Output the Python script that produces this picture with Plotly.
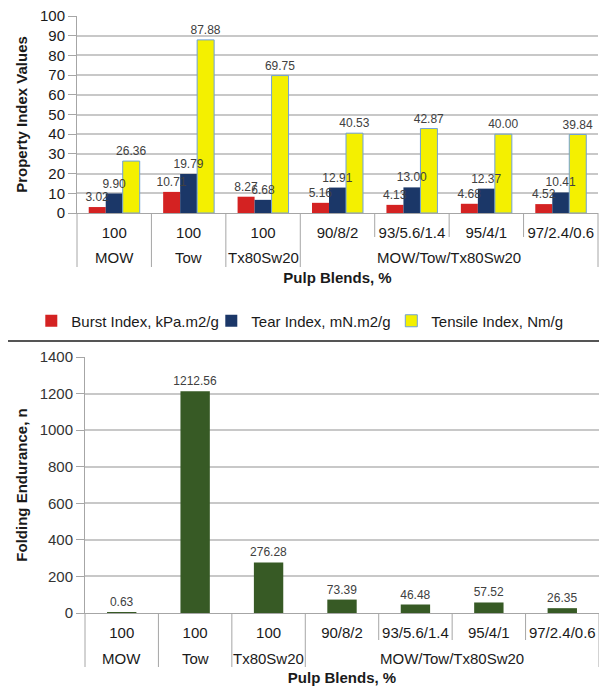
import plotly.graph_objects as go

# Pulp blend categories (outer group, inner composition)
groups = ["MOW", "Tow", "Tx80Sw20", "MOW/Tow/Tx80Sw20", "MOW/Tow/Tx80Sw20",
          "MOW/Tow/Tx80Sw20", "MOW/Tow/Tx80Sw20"]
blends = ["100", "100", "100", "90/8/2", "93/5.6/1.4", "95/4/1", "97/2.4/0.6"]

# Strength indices
burst_index = [3.02, 10.71, 8.27, 5.16, 4.13, 4.68, 4.52]
tear_index = [9.90, 19.79, 6.68, 12.91, 13.00, 12.37, 10.41]
tensile_index = [26.36, 87.88, 69.75, 40.53, 42.87, 40.00, 39.84]

# Folding endurance (number of double folds)
folding_endurance = [0.63, 1212.56, 276.28, 73.39, 46.48, 57.52, 26.35]

FONT = "Liberation Sans, Arial, sans-serif"
W, H = 599, 687


def py(px):
    """Convert a pixel row (from top) to paper y."""
    return 1 - px / H


def px_x(px):
    return px / W


# unique category keys; the tick text shows only the blend composition
keys = [f"{g} {b}" for g, b in zip(groups, blends)]
n_cat = len(keys)

# spans of consecutive identical outer groups: (label, first index, last index)
spans = []
for i, g in enumerate(groups):
    if spans and spans[-1][0] == g:
        spans[-1][2] = i
    else:
        spans.append([g, i, i])

fig = go.Figure()

bar_text = dict(family=FONT, size=12, color="#404040")

index_series = [
    ("Burst Index, kPa.m2/g", burst_index, "#d42222", dict(width=0)),
    ("Tear Index, mN.m2/g", tear_index, "#1b3768", dict(width=0)),
    ("Tensile Index, Nm/g", tensile_index, "#f4f000",
     dict(width=1, color="#6fa0d8")),
]

# bars first
for k, (name, vals, color, line) in enumerate(index_series):
    fig.add_trace(go.Bar(
        x=keys, y=vals, name=name, offsetgroup=str(k),
        marker=dict(color=color, line=line),
        xaxis="x", yaxis="y", hoverinfo="skip",
    ))
# value labels on top of every bar (drawn after all bars)
for k, (name, vals, color, line) in enumerate(index_series):
    fig.add_trace(go.Bar(
        x=keys, y=vals, name=name, offsetgroup=str(k), showlegend=False,
        marker=dict(color="rgba(0,0,0,0)", line=dict(width=0)),
        texttemplate="%{y:.2f}", textposition="outside", textfont=bar_text,
        constraintext="none", cliponaxis=False, xaxis="x", yaxis="y",
    ))

fig.add_trace(go.Bar(
    x=keys, y=folding_endurance, name="Folding Endurance",
    marker=dict(color="#375a25", line=dict(width=0)),
    width=0.4, showlegend=False,
    texttemplate="%{y:.2f}", textposition="outside", textfont=bar_text,
    constraintext="none", cliponaxis=False, xaxis="x2", yaxis="y2",
))

tick_font = dict(family=FONT, size=15, color="#1a1a1a")
title_font = dict(family=FONT, size=15, color="#1a1a1a")
AX_GRAY = "#a6a6a6"

xaxis_common = dict(
    type="category", automargin=False,
    categoryorder="array", categoryarray=keys,
    tickmode="array", tickvals=keys, ticktext=blends,
    showline=True, linecolor=AX_GRAY, linewidth=1,
    ticks="", tickangle=0, ticklabelstandoff=6,
    tickfont=tick_font,
    title=dict(text="<b>Pulp Blends, %</b>", font=title_font, standoff=32),
    showgrid=False, fixedrange=True,
)

yaxis_common = dict(
    automargin=False,
    showgrid=True, gridcolor="#c8c8c8", gridwidth=1.5,
    showline=True, linecolor=AX_GRAY, linewidth=1,
    ticks="outside", ticklen=8, tickcolor=AX_GRAY,
    tickfont=tick_font, zeroline=False, fixedrange=True,
)

shapes = []
annotations = []
# (x ref, y-domain ref, plot height px) for each panel
panels = (("x", "y", 197, 24), ("x2", "y2", 256, 27))
for xr, yr, h_px, inner_len in panels:
    xdom, ydom = f"{xr} domain", f"{yr} domain"
    # full-height separators at the outer group boundaries
    bounds = sorted({s[1] for s in spans} | {n_cat})
    for b in bounds:
        shapes.append(dict(type="line", xref=xdom, yref=ydom,
                           x0=b / n_cat, x1=b / n_cat, y0=0, y1=-54 / h_px,
                           line=dict(color=AX_GRAY, width=1)))
    # short separators between the blend compositions inside a group
    for label, i0, i1 in spans:
        for b in range(i0 + 1, i1 + 1):
            shapes.append(dict(type="line", xref=xdom, yref=ydom,
                               x0=b / n_cat, x1=b / n_cat, y0=0,
                               y1=-inner_len / h_px,
                               line=dict(color=AX_GRAY, width=1)))
        # outer group label centred under its blends
        annotations.append(dict(
            xref=xdom, yref=ydom, x=(i0 + i1 + 1) / 2 / n_cat,
            y=-45 / h_px, text=label, showarrow=False,
            xanchor="center", yanchor="middle", font=tick_font))

# rule between the two panels
shapes.append(dict(type="line", xref="paper", yref="paper",
                   x0=px_x(8), x1=1.0, y0=py(341), y1=py(341),
                   line=dict(color="#555555", width=2)))

fig.update_layout(
    width=W, height=H,
    margin=dict(l=0, r=0, t=0, b=0),
    paper_bgcolor="white", plot_bgcolor="white",
    font=dict(family=FONT, color="#1a1a1a"),
    barmode="group", bargap=0.315, bargroupgap=0,
    xaxis=dict(xaxis_common, domain=[px_x(77), px_x(598)], anchor="y"),
    yaxis=dict(yaxis_common, domain=[py(213), py(16)], anchor="x",
               range=[0, 100], dtick=10,
               title=dict(text="<b>Property Index Values</b>",
                          font=title_font, standoff=8)),
    xaxis2=dict(xaxis_common, domain=[px_x(85), 1.0], anchor="y2"),
    yaxis2=dict(yaxis_common, domain=[py(613), py(357)], anchor="x2",
                range=[0, 1400], dtick=200,
                tickfont=dict(family=FONT, size=15, color="#333333"),
                title=dict(text="<b>Folding Endurance, n</b>",
                           font=title_font, standoff=8)),
    legend=dict(
        orientation="h", x=0.503, xanchor="center",
        y=py(321), yanchor="middle",
        font=dict(family=FONT, size=15, color="#1a1a1a"),
        entrywidth=135, traceorder="normal",
        bgcolor="rgba(0,0,0,0)",
    ),
    shapes=shapes,
    annotations=annotations,
)

fig.write_html("out.html")
